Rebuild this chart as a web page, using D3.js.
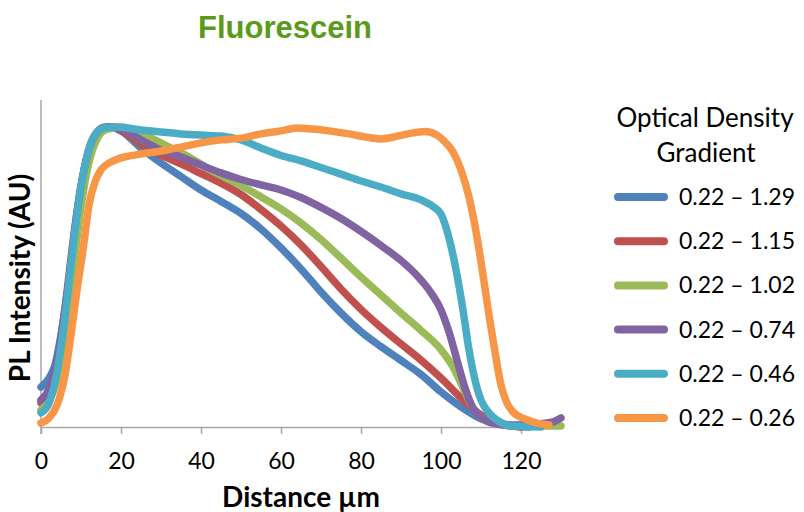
<!DOCTYPE html>
<html>
<head>
<meta charset="utf-8">
<script src="https://cdn.jsdelivr.net/npm/d3@7"></script>
<style>
  body { margin: 0; background: #fff; }
  svg { display: block; }
</style>
</head>
<body>
<div id="chart"></div>
<script>
// PL intensity profiles along the channel, one per optical density gradient
const seriesNames = ["0.22 \u2013 1.29", "0.22 \u2013 1.15", "0.22 \u2013 1.02", "0.22 \u2013 0.74", "0.22 \u2013 0.46", "0.22 \u2013 0.26"];
const seriesColors = ["#4F81BD", "#C0504D", "#9BBB59", "#8064A2", "#4BACC6", "#F79646"];
const xTicks = [0, 20, 40, 60, 80, 100, 120];

// [distance µm, normalised intensity]
const od129 = [[0,0.133],[2,0.163],[3.5,0.207],[5,0.307],[7,0.49],[9,0.717],[11,0.873],[13,0.957],[15,0.99],[17,1.0],[20,0.987],[25,0.93],[30,0.88],[35,0.835],[40,0.79],[45,0.752],[50,0.712],[55,0.66],[60,0.597],[65,0.527],[70,0.45],[75,0.38],[80,0.318],[85,0.268],[90,0.222],[95,0.175],[100,0.117],[105,0.067],[110,0.027],[115,0.007],[122,0]];
const od115 = [[0,0.08],[2,0.113],[4,0.197],[6,0.363],[8,0.583],[10,0.783],[12,0.917],[14,0.977],[16,0.997],[18,1.0],[21,0.98],[25,0.943],[30,0.907],[35,0.877],[40,0.845],[45,0.813],[50,0.775],[55,0.725],[60,0.67],[65,0.607],[70,0.535],[75,0.46],[80,0.392],[85,0.332],[90,0.277],[95,0.223],[100,0.163],[105,0.097],[110,0.04],[114,0.013],[120,0]];
const od102 = [[0,0.057],[2,0.087],[4,0.157],[6,0.3],[8,0.517],[10,0.733],[12,0.883],[14,0.96],[16,0.99],[18,0.997],[20,1.0],[23,0.99],[27,0.967],[32,0.933],[37,0.9],[42,0.86],[46,0.832],[50,0.805],[55,0.767],[60,0.727],[65,0.68],[70,0.625],[75,0.563],[80,0.5],[85,0.44],[90,0.38],[95,0.322],[100,0.258],[103,0.2],[106,0.117],[108,0.063],[110,0.033],[113,0.017],[120,0.003],[130,0.003]];
const od074 = [[0,0.09],[2,0.127],[4,0.217],[6,0.397],[8,0.617],[10,0.803],[12,0.927],[14,0.983],[16,1.0],[18,1.0],[21,0.987],[25,0.957],[30,0.923],[35,0.9],[40,0.873],[45,0.847],[50,0.825],[55,0.807],[60,0.79],[65,0.765],[70,0.732],[75,0.695],[80,0.652],[85,0.605],[90,0.555],[94,0.505],[97,0.457],[100,0.39],[102,0.317],[104,0.223],[106,0.13],[108,0.063],[110,0.033],[113,0.013],[118,0.007],[124,0.01],[128,0.017],[130,0.03]];
const od046 = [[0,0.047],[2,0.08],[4,0.183],[6,0.367],[8,0.6],[10,0.8],[12,0.927],[14,0.983],[16,0.997],[19,1.0],[25,0.99],[30,0.983],[35,0.977],[40,0.973],[45,0.97],[50,0.957],[55,0.93],[60,0.905],[65,0.887],[70,0.865],[75,0.843],[80,0.82],[85,0.8],[90,0.777],[95,0.757],[98,0.735],[100,0.71],[102,0.63],[104,0.507],[105.5,0.39],[107,0.257],[108.5,0.157],[110,0.09],[112,0.047],[114,0.023],[118,0.003],[125,0]];
const od026 = [[0,0.013],[2,0.03],[4,0.073],[6,0.173],[7.5,0.307],[9,0.457],[10.5,0.59],[12,0.74],[13.5,0.817],[15,0.857],[17,0.88],[20,0.897],[25,0.91],[30,0.92],[35,0.933],[40,0.947],[45,0.957],[50,0.963],[55,0.977],[60,0.987],[64,0.997],[68,0.993],[72,0.987],[77,0.977],[81,0.967],[85,0.96],[88,0.966],[92,0.978],[96,0.985],[99,0.973],[101,0.95],[103,0.917],[105,0.857],[107,0.767],[109,0.633],[110.5,0.507],[112,0.373],[113.5,0.25],[115,0.14],[116.5,0.08],[118,0.05],[121,0.027],[124,0.013],[127,0.007]];

const seriesData = [od129, od115, od102, od074, od046, od026];

const W = 804, H = 512;
const svg = d3.select("#chart").append("svg")
    .attr("width", W)
    .attr("height", H);

const x = d3.scaleLinear().domain([0, 130]).range([41, 561]);
const y = d3.scaleLinear().domain([0, 1.09]).range([427, 100]);

const axisColor = "#a8a8a8";

// y axis: plain line, no ticks
svg.append("line")
    .attr("x1", x(0)).attr("x2", x(0))
    .attr("y1", y(1.09)).attr("y2", y(0) + 7)
    .attr("stroke", axisColor)
    .attr("stroke-width", 1.5);

// x axis
const xAxis = svg.append("g")
    .attr("transform", `translate(0,${y(0)})`)
    .call(d3.axisBottom(x).tickValues(xTicks).tickSize(7).tickSizeOuter(0).tickPadding(19));
xAxis.select(".domain").attr("stroke", axisColor).attr("stroke-width", 1.5);
xAxis.selectAll(".tick line").attr("stroke", axisColor).attr("stroke-width", 1.5);
xAxis.selectAll(".tick text")
    .style("font-family", "Lato, 'Open Sans', sans-serif")
    .style("font-size", "23px")
    .attr("fill", "#000");

// lines
const line = d3.line()
    .x(d => x(d[0]))
    .y(d => y(d[1]))
    .curve(d3.curveMonotoneX);

svg.selectAll("path.series")
    .data(seriesData)
    .enter()
    .append("path")
    .attr("class", "series")
    .attr("d", line)
    .attr("fill", "none")
    .attr("stroke", (d, i) => seriesColors[i])
    .attr("stroke-width", 7.5)
    .attr("stroke-linejoin", "round")
    .attr("stroke-linecap", "round");

// title
svg.append("text")
    .attr("x", 285)
    .attr("y", 38)
    .attr("text-anchor", "middle")
    .style("font-family", "'Liberation Sans', Arial, sans-serif")
    .style("font-weight", "bold")
    .style("font-size", "31px")
    .attr("fill", "#5b9a1b")
    .text("Fluorescein");

// axis titles
svg.append("text")
    .attr("x", 301)
    .attr("y", 507)
    .attr("text-anchor", "middle")
    .style("font-family", "Lato, sans-serif")
    .style("font-weight", "bold")
    .style("font-size", "28px")
    .text("Distance \u00b5m");

svg.append("text")
    .attr("transform", "rotate(-90)")
    .attr("x", -278)
    .attr("y", 30)
    .attr("text-anchor", "middle")
    .style("font-family", "Lato, sans-serif")
    .style("font-weight", "bold")
    .style("font-size", "28px")
    .text("PL Intensity (AU)");

// legend
const legend = svg.append("g");
legend.append("text")
    .attr("x", 705).attr("y", 127)
    .attr("text-anchor", "middle")
    .style("font-family", "Lato, sans-serif")
    .style("font-size", "26px")
    .text("Optical Density");
legend.append("text")
    .attr("x", 706).attr("y", 162)
    .attr("text-anchor", "middle")
    .style("font-family", "Lato, sans-serif")
    .style("font-size", "26px")
    .text("Gradient");

const items = legend.selectAll("g.item")
    .data(seriesNames)
    .enter()
    .append("g")
    .attr("class", "item")
    .attr("transform", (d, i) => `translate(0,${197 + i * 44.2})`);

items.append("line")
    .attr("x1", 618).attr("x2", 664)
    .attr("stroke", (d, i) => seriesColors[i])
    .attr("stroke-width", 8)
    .attr("stroke-linecap", "round");

items.append("text")
    .attr("x", 679)
    .attr("y", 8)
    .style("font-family", "Lato, sans-serif")
    .style("font-size", "23px")
    .text(d => d);
</script>
</body>
</html>
